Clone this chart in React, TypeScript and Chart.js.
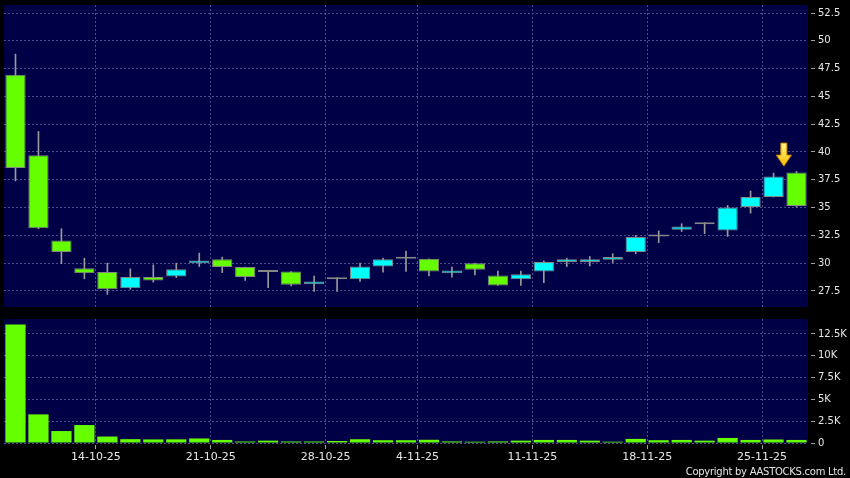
import React, { useEffect, useRef } from "react";
import { Chart, registerables } from "chart.js";

Chart.register(...registerables);

// ---------- data ----------
const DATES = [
  "8-10-25", "9-10-25", "10-10-25", "13-10-25", "14-10-25", "15-10-25", "16-10-25", "17-10-25",
  "20-10-25", "21-10-25", "22-10-25", "23-10-25", "24-10-25", "27-10-25", "28-10-25", "30-10-25",
  "31-10-25", "3-11-25", "4-11-25", "5-11-25", "6-11-25", "7-11-25", "10-11-25", "11-11-25",
  "12-11-25", "13-11-25", "14-11-25", "17-11-25", "18-11-25", "19-11-25", "20-11-25", "21-11-25",
  "24-11-25", "25-11-25", "26-11-25",
];
const OPEN = [
  46.95, 39.7, 32.05, 29.55, 29.2, 27.75, 28.75, 28.8, 30.0, 30.35, 29.65, 29.2, 29.25, 28.1, 28.7, 28.55,
  29.7, 30.4, 30.4, 29.1, 30.0, 28.9, 28.55, 29.25, 30.1, 30.1, 30.3, 31.0, 32.4, 33.0, 33.5, 32.95,
  35.05, 35.95, 38.15,
];
const HIGH = [
  48.8, 41.85, 33.1, 30.45, 30.0, 29.5, 29.85, 30.0, 30.9, 30.55, 29.65, 29.35, 29.25, 28.85, 28.7, 30.0,
  30.45, 31.1, 30.4, 29.65, 30.0, 29.3, 29.3, 30.2, 30.45, 30.6, 30.85, 32.5, 32.9, 33.55, 33.65, 35.2,
  36.5, 38.1, 38.25,
];
const LOW = [
  37.4, 33.1, 29.95, 28.6, 27.2, 27.65, 28.3, 28.7, 29.7, 29.15, 28.45, 27.8, 27.95, 27.45, 27.45, 28.35,
  29.2, 29.25, 28.85, 28.75, 28.95, 28.0, 28.0, 28.25, 29.7, 29.75, 30.05, 30.85, 31.85, 32.85, 32.65, 32.4,
  34.5, 35.95, 35.05,
];
const CLOSE = [
  38.55, 33.15, 31.0, 29.1, 27.65, 28.75, 28.45, 29.45, 30.25, 29.65, 28.75, 29.2, 28.05, 28.35, 28.55, 29.7,
  30.35, 30.4, 29.25, 29.35, 29.4, 28.0, 29.0, 30.1, 30.35, 30.35, 30.55, 32.35, 32.4, 33.3, 33.5, 35.0,
  35.95, 37.8, 35.15,
];
const VOLUME = [
  13600, 3280, 1370, 2060, 740, 440, 410, 420, 520, 350, 170, 270, 170, 170, 230, 430,
  320, 320, 370, 180, 150, 180, 270, 350, 350, 270, 150, 470, 320, 350, 270, 580,
  350, 400, 350,
];
const AXIS_DATES = ["14-10-25", "21-10-25", "28-10-25", "4-11-25", "11-11-25", "18-11-25", "25-11-25"];
const PRICE_TICKS = [27.5, 30, 32.5, 35, 37.5, 40, 42.5, 45, 47.5, 50, 52.5];
const VOLUME_TICKS = [0, 2500, 5000, 7500, 10000, 12500];
const VOLUME_TICK_LABELS = ["0", "2.5K", "5K", "7.5K", "10K", "12.5K"];
const ARROW_INDEX = 33;

const PRICE_MIN = 26.06;
const PRICE_MAX = 53.22;
const VOLUME_MAX = 14220;

// ---------- styles ----------
const NAVY = "#000046";
const GRID = "#4e4e8e";
const LIME = "#66ff00";
const CYAN = "#00ffff";
const DOJI = "#8a8a8a";
const BODY_BORDER = "#868686";
const WICK = "#9a9a9a";
const LABEL = "#e6e6e6";
const TICK = "#a0a0a0";
const FONT = "DejaVu Sans";

Chart.defaults.font.family = FONT;

const GRID_POS = AXIS_DATES.map((d) => DATES.indexOf(d) - 0.5);

const plotBg = {
  id: "plotBg",
  beforeDraw(chart: any) {
    const { ctx, chartArea: a } = chart;
    ctx.save();
    ctx.fillStyle = NAVY;
    ctx.fillRect(a.left, a.top, a.right - a.left, a.bottom - a.top);
    ctx.restore();
  },
};

const tickMarks = {
  id: "tickMarks",
  afterDraw(chart: any, _args: any, opts: any) {
    const { ctx, chartArea: a, scales } = chart;
    ctx.save();
    ctx.strokeStyle = TICK;
    ctx.lineWidth = 1;
    const ys = scales.y;
    ys.ticks.forEach((t: any) => {
      const py = Math.floor(ys.getPixelForValue(t.value)) + 0.5;
      ctx.beginPath();
      ctx.moveTo(a.right + 3, py);
      ctx.lineTo(a.right + 7, py);
      ctx.stroke();
    });
    if (opts && opts.x) {
      const xs = scales.x;
      xs.ticks.forEach((t: any) => {
        const px = Math.floor(xs.getPixelForValue(t.value)) + 0.5;
        ctx.beginPath();
        ctx.moveTo(px, a.bottom + 2);
        ctx.lineTo(px, a.bottom + 6);
        ctx.stroke();
      });
    }
    ctx.restore();
  },
};

const arrowMark = {
  id: "arrowMark",
  afterDatasetsDraw(chart: any, _args: any, opts: any) {
    if (!opts || opts.index == null) return;
    const i = opts.index;
    const { ctx, scales } = chart;
    const x = scales.x.getPixelForValue(i + 0.45);
    const tip = scales.y.getPixelForValue(HIGH[i]) - 7;
    ctx.save();
    const g = ctx.createLinearGradient(0, tip - 23, 0, tip);
    g.addColorStop(0, "#fff38a");
    g.addColorStop(1, "#ffbf00");
    ctx.fillStyle = g;
    ctx.strokeStyle = "#c98a00";
    ctx.lineWidth = 1;
    ctx.beginPath();
    ctx.moveTo(x, tip);
    ctx.lineTo(x - 7.5, tip - 11);
    ctx.lineTo(x - 3, tip - 11);
    ctx.lineTo(x - 3, tip - 23);
    ctx.lineTo(x + 3, tip - 23);
    ctx.lineTo(x + 3, tip - 11);
    ctx.lineTo(x + 7.5, tip - 11);
    ctx.closePath();
    ctx.fill();
    ctx.stroke();
    ctx.restore();
  },
};

function bodyColor(i: number) {
  if (CLOSE[i] > OPEN[i]) return CYAN;
  if (CLOSE[i] < OPEN[i]) return LIME;
  return DOJI;
}

const gridOpts = { color: GRID, lineWidth: 1, drawTicks: false, offset: false };
const borderOpts = { display: false, dash: [2, 2] };

export default function App() {
  const topRef = useRef<HTMLCanvasElement>(null);
  const botRef = useRef<HTMLCanvasElement>(null);

  useEffect(() => {
    const top = new Chart(topRef.current as HTMLCanvasElement, {
      type: "bar",
      data: {
        datasets: [
          {
            label: "body",
            data: DATES.map((_, i) => ({ x: i, y: [OPEN[i], CLOSE[i]] })) as any,
            backgroundColor: (c: any) => bodyColor(c.dataIndex),
            borderColor: BODY_BORDER,
            borderWidth: 1,
            borderSkipped: false,
            minBarLength: 2,
            barPercentage: 0.88,
            categoryPercentage: 1,
            grouped: false,
            order: 0,
          } as any,
          {
            label: "wick",
            data: DATES.map((_, i) => ({ x: i, y: [LOW[i], HIGH[i]] })) as any,
            backgroundColor: WICK,
            borderWidth: 0,
            barThickness: 1,
            grouped: false,
            order: 1,
          } as any,
        ],
      },
      options: {
        responsive: false,
        animation: false,
        events: [],
        layout: { padding: { left: 4, top: 5, right: 0, bottom: 0 } },
        plugins: {
          legend: { display: false },
          tooltip: { enabled: false },
          arrowMark: { index: ARROW_INDEX },
          tickMarks: { x: false },
        } as any,
        scales: {
          x: {
            type: "linear",
            min: -0.5,
            max: 34.5,
            offset: false,
            afterBuildTicks: (s: any) => {
              s.ticks = GRID_POS.map((v) => ({ value: v }));
            },
            afterFit: (s: any) => {
              s.height = 5;
              s.paddingLeft = 0;
              s.paddingRight = 0;
            },
            ticks: { display: false },
            grid: gridOpts,
            border: borderOpts,
          },
          y: {
            position: "right",
            min: PRICE_MIN,
            max: PRICE_MAX,
            afterBuildTicks: (s: any) => {
              s.ticks = PRICE_TICKS.map((v) => ({ value: v }));
            },
            afterFit: (s: any) => {
              s.width = 42;
              s.paddingTop = 0;
              s.paddingBottom = 0;
            },
            ticks: {
              color: LABEL,
              font: { size: 10, family: FONT },
              padding: 10,
              callback: (v: any) => String(v),
            },
            grid: gridOpts,
            border: borderOpts,
          },
        } as any,
      },
      plugins: [plotBg, tickMarks, arrowMark],
    });

    const bot = new Chart(botRef.current as HTMLCanvasElement, {
      type: "bar",
      data: {
        datasets: [
          {
            label: "volume",
            data: DATES.map((_, i) => ({ x: i, y: VOLUME[i] })) as any,
            backgroundColor: LIME,
            borderWidth: 0,
            barPercentage: 0.88,
            categoryPercentage: 1,
            grouped: false,
          } as any,
        ],
      },
      options: {
        responsive: false,
        animation: false,
        events: [],
        layout: { padding: { left: 4, top: 7, right: 0, bottom: 0 } },
        plugins: {
          legend: { display: false },
          tooltip: { enabled: false },
          tickMarks: { x: true },
        } as any,
        scales: {
          x: {
            type: "linear",
            min: -0.5,
            max: 34.5,
            offset: false,
            afterBuildTicks: (s: any) => {
              s.ticks = GRID_POS.map((v) => ({ value: v }));
            },
            afterFit: (s: any) => {
              s.height = 35;
              s.paddingLeft = 0;
              s.paddingRight = 0;
            },
            ticks: {
              color: LABEL,
              font: { size: 11, family: FONT },
              padding: 8,
              maxRotation: 0,
              autoSkip: false,
              callback: (_v: any, idx: number) => AXIS_DATES[idx],
            },
            grid: gridOpts,
            border: borderOpts,
          },
          y: {
            position: "right",
            min: 0,
            max: VOLUME_MAX,
            afterBuildTicks: (s: any) => {
              s.ticks = VOLUME_TICKS.map((v) => ({ value: v }));
            },
            afterFit: (s: any) => {
              s.width = 42;
              s.paddingTop = 0;
              s.paddingBottom = 0;
            },
            ticks: {
              color: LABEL,
              font: { size: 10, family: FONT },
              padding: 10,
              callback: (_v: any, idx: number) => VOLUME_TICK_LABELS[idx],
            },
            grid: gridOpts,
            border: borderOpts,
          },
        } as any,
      },
      plugins: [plotBg, tickMarks],
    });

    return () => {
      top.destroy();
      bot.destroy();
    };
  }, []);

  return (
    <div
      style={{
        position: "absolute",
        left: 0,
        top: 0,
        width: 850,
        height: 478,
        background: "#000",
        overflow: "hidden",
      }}
    >
      <canvas ref={topRef} width={850} height={312} style={{ position: "absolute", left: 0, top: 0 }} />
      <canvas ref={botRef} width={850} height={166} style={{ position: "absolute", left: 0, top: 312 }} />
      <div
        style={{
          position: "absolute",
          right: 4,
          top: 466,
          fontFamily: FONT,
          fontSize: 10,
          letterSpacing: "-0.27px",
          lineHeight: "normal",
          color: LABEL,
          whiteSpace: "nowrap",
        }}
      >
        Copyright by AASTOCKS.com Ltd.
      </div>
    </div>
  );
}
